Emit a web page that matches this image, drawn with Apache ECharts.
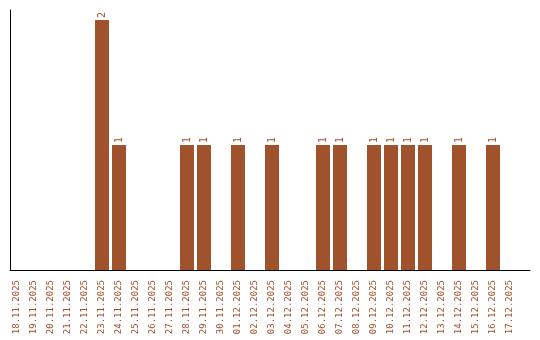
<!DOCTYPE html>
<html><head><meta charset="utf-8">
<script src="https://cdn.jsdelivr.net/npm/echarts@6/dist/echarts.min.js"></script>
<style>html,body{margin:0;padding:0;background:#fff}#c{width:540px;height:340px}</style>
</head><body><div id="c"></div>
<script>
const categories = ["18.11.2025","19.11.2025","20.11.2025","21.11.2025","22.11.2025","23.11.2025","24.11.2025","25.11.2025","26.11.2025","27.11.2025","28.11.2025","29.11.2025","30.11.2025","01.12.2025","02.12.2025","03.12.2025","04.12.2025","05.12.2025","06.12.2025","07.12.2025","08.12.2025","09.12.2025","10.12.2025","11.12.2025","12.12.2025","13.12.2025","14.12.2025","15.12.2025","16.12.2025","17.12.2025"];
const counts = [0,0,0,0,0,2,1,0,0,0,1,1,0,1,0,1,0,0,1,1,0,1,1,1,1,0,1,0,1,0];
const color = '#A0522D';
const font = 'DejaVu Sans Mono';
const chart = echarts.init(document.getElementById('c'));
chart.setOption({
  animation: false,
  grid: [
    {left: 8.5, width: 510, top: 10, bottom: 70},
    {left: 10, right: 10, top: 10, bottom: 70}
  ],
  xAxis: [
    {type: 'category', gridIndex: 0, data: categories,
     axisLine: {show: false}, axisTick: {show: false},
     axisLabel: {rotate: 90, interval: 0, margin: 10, color: color, fontFamily: font, fontSize: 9}},
    {type: 'value', gridIndex: 1, min: 0, max: 1,
     axisLine: {show: true, onZero: false, lineStyle: {color: '#000', width: 1}},
     axisTick: {show: false}, axisLabel: {show: false}, splitLine: {show: false}}
  ],
  yAxis: [
    {type: 'value', gridIndex: 0, min: 0, max: 2.08,
     axisLine: {show: false}, axisTick: {show: false}, axisLabel: {show: false}, splitLine: {show: false}},
    {type: 'value', gridIndex: 1, min: 0, max: 1,
     axisLine: {show: true, lineStyle: {color: '#000', width: 1}},
     axisTick: {show: false}, axisLabel: {show: false}, splitLine: {show: false}}
  ],
  series: [{
    type: 'bar', xAxisIndex: 0, yAxisIndex: 0,
    data: counts.map(v => v === 0 ? null : v),
    barWidth: 14,
    itemStyle: {color: color},
    label: {show: true, position: 'top', rotate: 90, align: 'left', verticalAlign: 'middle',
            distance: 2, color: color, fontFamily: font, fontSize: 10}
  }]
});
</script></body></html>
